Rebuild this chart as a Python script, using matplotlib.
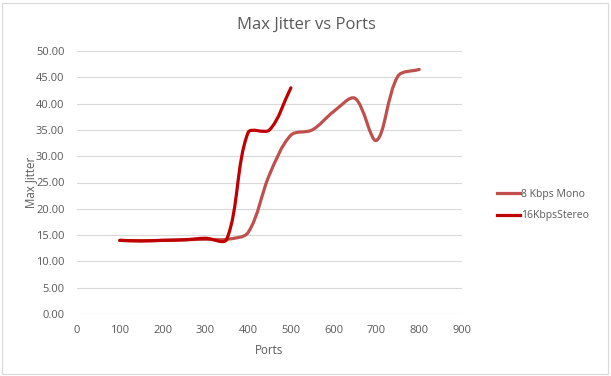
import matplotlib
matplotlib.use("Agg")
import matplotlib.pyplot as plt
from matplotlib.path import Path
from matplotlib.patches import PathPatch, Rectangle
from matplotlib.lines import Line2D
import numpy as np

ports_mono = [100, 150, 200, 250, 300, 350, 400, 450, 500, 550, 600, 650, 700, 750, 800]
jitter_mono = [14.0, 13.9, 14.0, 14.1, 14.2, 14.2, 15.5, 26.5, 34.0, 35.0, 38.5, 41.0, 33.0, 45.2, 46.5]
ports_stereo = [100, 150, 200, 250, 300, 350, 400, 450, 500]
jitter_stereo = [14.0, 13.9, 14.0, 14.1, 14.4, 14.2, 34.5, 35.0, 43.0]

series = [("8 Kbps Mono", ports_mono, jitter_mono, "#C0504D"),
          ("16KbpsStereo", ports_stereo, jitter_stereo, "#C00000")]

font = "Open Sans"
tc = "#595959"

fig = plt.figure(figsize=(6.11, 3.76), dpi=100)
fig.patches.append(Rectangle((2/611, 2/376), 606/611, 371/376, transform=fig.transFigure,
                             fill=False, edgecolor="#d9d9d9", linewidth=0.8))
ax = fig.add_axes([77/611, 62/376, 385/611, 263/376])

SX, SY = 385 / 900, 263 / 50  # pixel per data unit, for Excel-like smoothing


def smooth_path(xs, ys):
    pts = np.column_stack([xs, ys]).astype(float)
    scale = np.array([SX, SY])
    n = len(pts)

    def dist(a, b):
        return np.hypot(*((a - b) * scale))

    verts = [pts[0]]
    codes = [Path.MOVETO]
    for i in range(n - 1):
        p1, p2 = pts[i], pts[i + 1]
        p0 = pts[i - 1] if i > 0 else p1
        p3 = pts[i + 2] if i + 2 < n else p2
        d01, d12, d23 = dist(p0, p1), dist(p1, p2), dist(p2, p3)
        f1 = d12 / (d01 + d12) / 3 if d01 > 0 else 0
        f2 = d12 / (d12 + d23) / 3 if d23 > 0 else 0
        c1 = p1 + (p2 - p0) * f1 if i > 0 else p1 + (p2 - p1) / 3
        c2 = p2 - (p3 - p1) * f2 if i + 2 < n else p2 - (p2 - p1) / 3
        verts += [c1, c2, p2]
        codes += [Path.CURVE4] * 3
    return Path(verts, codes)


handles = []
for name, xs, ys, col in series:
    patch = PathPatch(smooth_path(xs, ys), facecolor="none", edgecolor=col,
                      linewidth=2.3, capstyle="round", joinstyle="round", zorder=3)
    ax.add_patch(patch)
    handles.append(Line2D([0], [0], color=col, linewidth=2.3, label=name))

ax.set_xlim(0, 900)
ax.set_ylim(0, 50)
ax.set_xticks(range(0, 901, 100))
ax.set_yticks(np.arange(0, 50.01, 5))
ax.set_yticklabels([f"{v:.2f}" for v in np.arange(0, 50.01, 5)])
ax.grid(axis="y", color="#d9d9d9", linewidth=0.8)
ax.set_axisbelow(True)
for s in ax.spines.values():
    s.set_visible(False)
ax.tick_params(axis="y", length=0, labelsize=8, colors=tc, pad=9)
ax.tick_params(axis="x", length=0, labelsize=8, colors=tc, pad=8)
for lab in ax.get_xticklabels() + ax.get_yticklabels():
    lab.set_fontfamily(font)

ax.set_xlabel("Ports", fontsize=8.3, color=tc, family=font, labelpad=6)
ax.set_ylabel("Max Jitter", fontsize=8.3, color=tc, family=font, labelpad=-1)
fig.text(306/611, 1 - 25/376, "Max Jitter vs Ports", ha="center", va="center",
         fontsize=12, color=tc, family=font)

leg = fig.legend(handles=handles, loc="center left", bbox_to_anchor=(488/611, 1 - 205/376),
                 frameon=False, prop={"family": font, "size": 7.5}, handlelength=2.2,
                 handletextpad=0.1, labelspacing=1.0)
for t in leg.get_texts():
    t.set_color(tc)

fig.savefig("out.png", dpi=100)
